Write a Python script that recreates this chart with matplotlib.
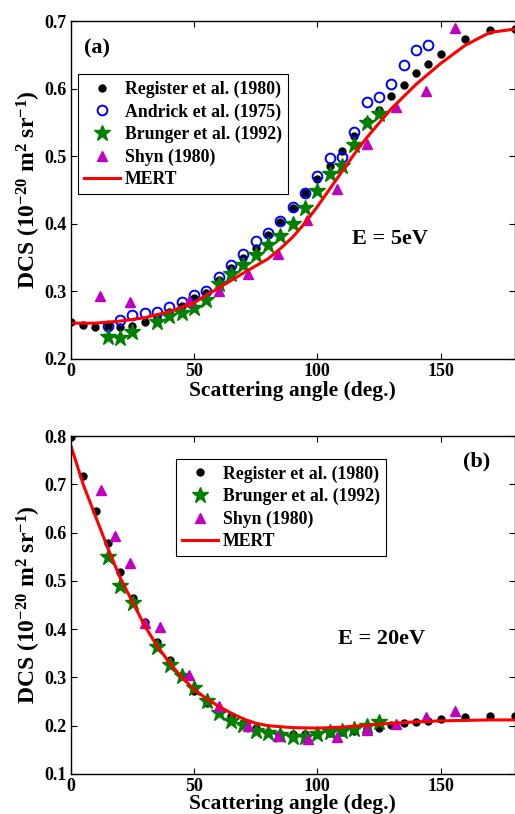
import matplotlib
matplotlib.use("Agg")
import matplotlib.pyplot as plt

# ---- (a) E = 5 eV ----
reg5_x = [0, 5, 10, 15, 20, 25, 30, 35, 40, 45, 50, 55, 60, 65, 70, 75, 80, 85, 90,
          95, 100, 105, 110, 115, 120, 125, 130, 135, 140, 145, 150, 160, 170, 180]
reg5_y = [0.255, 0.250, 0.248, 0.249, 0.248, 0.249, 0.254, 0.262, 0.270, 0.279, 0.290,
          0.298, 0.317, 0.334, 0.350, 0.364, 0.383, 0.403, 0.423, 0.445, 0.466, 0.486,
          0.508, 0.530, 0.552, 0.569, 0.589, 0.606, 0.623, 0.637, 0.651, 0.673, 0.686, 0.688]

and5_x = [15, 20, 25, 30, 35, 40, 45, 50, 55, 60, 65, 70, 75, 80, 85, 90, 95, 100,
          105, 110, 115, 120, 125, 130, 135, 140, 145]
and5_y = [0.249, 0.258, 0.265, 0.268, 0.269, 0.277, 0.285, 0.294, 0.300, 0.321, 0.339,
          0.355, 0.375, 0.387, 0.404, 0.425, 0.446, 0.470, 0.498, 0.499, 0.536, 0.580,
          0.587, 0.607, 0.635, 0.657, 0.665]

bru5_x = [15, 20, 25, 35, 40, 45, 50, 55, 60, 65, 70, 75, 80, 85, 90, 95, 100, 105,
          110, 115, 120, 125]
bru5_y = [0.233, 0.231, 0.240, 0.254, 0.263, 0.268, 0.275, 0.287, 0.311, 0.326, 0.339,
          0.354, 0.369, 0.382, 0.400, 0.423, 0.448, 0.473, 0.486, 0.517, 0.549, 0.563]

shyn5_x = [12, 24, 48, 60, 72, 84, 96, 108, 120, 132, 144, 156]
shyn5_y = [0.293, 0.285, 0.286, 0.300, 0.325, 0.356, 0.405, 0.451, 0.518, 0.573, 0.597, 0.689]

mert5_x = [0, 10, 20, 30, 40, 50, 60, 70, 80, 85, 90, 95, 100, 105, 110, 115, 120,
           130, 140, 150, 160, 170, 180]
mert5_y = [0.253, 0.253, 0.256, 0.261, 0.270, 0.283, 0.305, 0.327, 0.348, 0.363, 0.380,
           0.401, 0.425, 0.451, 0.477, 0.503, 0.527, 0.570, 0.606, 0.637, 0.664, 0.683, 0.688]

# ---- (b) E = 20 eV ----
reg20_x = [0, 5, 10, 15, 20, 25, 30, 35, 40, 45, 50, 55, 60, 65, 70, 75, 80, 85, 90,
           95, 100, 105, 110, 115, 120, 125, 130, 135, 140, 145, 150, 160, 170, 180]
reg20_y = [0.797, 0.718, 0.645, 0.578, 0.518, 0.464, 0.414, 0.374, 0.336, 0.302, 0.272,
           0.248, 0.228, 0.220, 0.205, 0.195, 0.186, 0.183, 0.182, 0.182, 0.182, 0.184,
           0.187, 0.190, 0.193, 0.196, 0.201, 0.205, 0.207, 0.209, 0.213, 0.218, 0.220, 0.220]

bru20_x = [15, 20, 25, 35, 40, 45, 50, 55, 60, 65, 70, 75, 80, 85, 90, 95, 100, 105,
           110, 115, 120, 125]
bru20_y = [0.549, 0.489, 0.455, 0.364, 0.326, 0.302, 0.278, 0.252, 0.226, 0.209, 0.201,
           0.190, 0.184, 0.181, 0.177, 0.177, 0.183, 0.187, 0.190, 0.194, 0.200, 0.208]

shyn20_x = [12, 18, 24, 30, 36, 48, 60, 72, 84, 96, 108, 120, 132, 144, 156]
shyn20_y = [0.688, 0.592, 0.538, 0.412, 0.404, 0.305, 0.241, 0.200, 0.179, 0.172, 0.177,
            0.191, 0.204, 0.219, 0.231]

mert20_x = [0, 5, 10, 15, 20, 25, 30, 35, 40, 45, 50, 55, 60, 65, 70, 75, 80, 90, 100,
            110, 120, 130, 140, 150, 160, 170, 180]
mert20_y = [0.779, 0.699, 0.633, 0.567, 0.506, 0.456, 0.406, 0.365, 0.330, 0.300, 0.275,
            0.256, 0.240, 0.226, 0.214, 0.205, 0.200, 0.196, 0.195, 0.197, 0.201, 0.205,
            0.208, 0.210, 0.211, 0.212, 0.212]

plt.rcParams["font.family"] = ["Liberation Serif", "DejaVu Serif"]
plt.rcParams["font.weight"] = "bold"
plt.rcParams["mathtext.fontset"] = "custom"
plt.rcParams["mathtext.rm"] = "Liberation Serif:bold"
plt.rcParams["mathtext.it"] = "Liberation Serif:bold"
plt.rcParams["mathtext.bf"] = "Liberation Serif:bold"

YLABEL = r"DCS (10$^{-20}$ m$^{2}$ sr$^{-1}$)"

fig = plt.figure(figsize=(5.15, 8.14), dpi=100)
W = 515.0
H = 814.0


def axes_px(left, right, top, bottom):
    return fig.add_axes([left / W, 1 - bottom / H, (right - left) / W, (bottom - top) / H])


def style_axes(ax, ylim, yticks, xpad):
    ax.set_xlim(0, 180)
    ax.set_ylim(*ylim)
    ax.set_xticks([0, 50, 100, 150])
    ax.set_yticks(yticks)
    ax.set_yticklabels([f"{v:g}" for v in yticks])
    ax.tick_params(direction="in", top=True, right=True, labelsize=13, length=4,
                   width=0.8, pad=3)
    for lab in ax.get_xticklabels() + ax.get_yticklabels():
        lab.set_fontweight("bold")
    for sp in ax.spines.values():
        sp.set_linewidth(1.0)
    ax.set_xlabel("Scattering angle (deg.)", fontsize=15.5, fontweight="bold", labelpad=xpad)
    ax.set_ylabel(YLABEL, fontsize=17, fontweight="bold", labelpad=1)


def draw_points(ax, x, y, kind):
    if kind == "reg":
        return ax.plot(x, y, "o", color="black", markersize=5, linestyle="none",
                       label="Register et al. (1980)")[0]
    if kind == "and":
        return ax.plot(x, y, "o", mfc="none", mec="blue", mew=1.4, markersize=7,
                       linestyle="none", label="Andrick et al. (1975)")[0]
    if kind == "bru":
        return ax.plot(x, y, "*", color="green", markersize=12, linestyle="none",
                       label="Brunger et al. (1992)")[0]
    return ax.plot(x, y, "^", color="m", markersize=7.5, linestyle="none",
                   label="Shyn (1980)")[0]


LEG_KW = dict(loc="upper left", borderaxespad=0, numpoints=1, handlelength=2.0,
              handletextpad=0.3, labelspacing=0.3, borderpad=0.35, fancybox=False,
              framealpha=1, edgecolor="black", prop={"weight": "bold", "size": 12.8})

# panel (a)
ax1 = axes_px(70.5, 514.5, 21, 359)
draw_points(ax1, reg5_x, reg5_y, "reg")
draw_points(ax1, and5_x, and5_y, "and")
draw_points(ax1, bru5_x, bru5_y, "bru")
draw_points(ax1, shyn5_x, shyn5_y, "shyn")
ax1.plot(mert5_x, mert5_y, color="red", linewidth=2.2, label="MERT")
style_axes(ax1, (0.2, 0.7), [0.2, 0.3, 0.4, 0.5, 0.6, 0.7], 0.5)
ax1.text(0.03, 0.92, "(a)", transform=ax1.transAxes, fontsize=16, fontweight="bold",
         ha="left", va="center")
ax1.text(0.72, 0.355, "E = 5eV", transform=ax1.transAxes, fontsize=16, fontweight="bold",
         ha="center", va="center")
leg1 = ax1.legend(bbox_to_anchor=(0.017, 0.842), **LEG_KW)
leg1.get_frame().set_linewidth(0.8)

# panel (b)
ax2 = axes_px(71, 514.5, 436, 774)
draw_points(ax2, reg20_x, reg20_y, "reg")
draw_points(ax2, bru20_x, bru20_y, "bru")
draw_points(ax2, shyn20_x, shyn20_y, "shyn")
ax2.plot(mert20_x, mert20_y, color="red", linewidth=2.2, label="MERT")
style_axes(ax2, (0.1, 0.8), [0.1, 0.2, 0.3, 0.4, 0.5, 0.6, 0.7, 0.8], -0.5)
ax2.text(0.915, 0.925, "(b)", transform=ax2.transAxes, fontsize=16, fontweight="bold",
         ha="center", va="center")
ax2.text(0.70, 0.40, "E = 20eV", transform=ax2.transAxes, fontsize=16, fontweight="bold",
         ha="center", va="center")
leg2 = ax2.legend(bbox_to_anchor=(0.237, 0.932), **LEG_KW)
leg2.get_frame().set_linewidth(0.8)

fig.savefig("out.png", dpi=100)
